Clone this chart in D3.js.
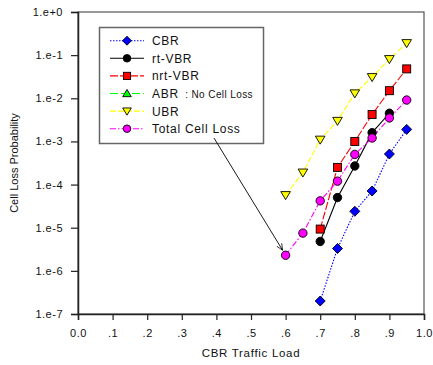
<!DOCTYPE html>
<html>
<head>
<meta charset="utf-8">
<script src="https://cdn.jsdelivr.net/npm/d3@7"></script>
<style>
  body { margin: 0; background: #fff; }
  svg { font-family: 'Liberation Sans', Arial, sans-serif; }
  .tick text { font-size: 11px; letter-spacing: 0.5px; fill: #111; }
</style>
</head>
<body>
<svg id="chart" width="433" height="365"></svg>
<script>
'use strict';

// load values (x axis)
const loads = [0.6, 0.65, 0.7, 0.75, 0.8, 0.85, 0.9, 0.95];

// cell loss probability per class (null = no point)
const cbr = [null, null, 2.0e-7, 3.3e-6, 2.4e-5, 7.1e-5, 5.1e-4, 1.9e-3];
const rtVbr = [null, null, 4.8e-6, 5.0e-5, 2.7e-4, 1.6e-3, 4.5e-3, null];
const nrtVbr = [null, null, 9.3e-6, 2.5e-4, 1.0e-3, 4.2e-3, 1.5e-2, 4.8e-2];
const ubr = [5.7e-5, 1.9e-4, 1.1e-3, 3.0e-3, 1.3e-2, 3.1e-2, 8.1e-2, 0.19];
const total = [2.3e-6, 7.5e-6, 4.2e-5, 1.2e-4, 5.0e-4, 1.2e-3, 3.5e-3, 9.1e-3];

const xTicks = [0, 0.1, 0.2, 0.3, 0.4, 0.5, 0.6, 0.7, 0.8, 0.9, 1.0];
const xTickLabels = ['0.0', '.1', '.2', '.3', '.4', '.5', '.6', '.7', '.8', '.9', '1.0'];
const yTicks = [1, 1e-1, 1e-2, 1e-3, 1e-4, 1e-5, 1e-6, 1e-7];
const yTickLabels = ['1.e+0', '1.e-1', '1.e-2', '1.e-3', '1.e-4', '1.e-5', '1.e-6', '1.e-7'];

const series = [
  { name: 'CBR', values: cbr, color: '#0000ff', dash: '1.5,1.5', marker: 'diamond', fill: '#0000ff' },
  { name: 'rt-VBR', values: rtVbr, color: '#000', dash: null, marker: 'circle', fill: '#000' },
  { name: 'nrt-VBR', values: nrtVbr, color: '#ff0000', dash: '8,2', marker: 'square', fill: '#ff0000' },
  { name: 'ABR', note: '  : No Cell Loss', values: [], color: '#00ff00', dash: '8,3', marker: 'triangle', fill: '#00ff00' },
  { name: 'UBR', values: ubr, color: '#ffff00', dash: '6,2', marker: 'triangleDown', fill: '#ffff00' },
  { name: 'Total Cell Loss', values: total, color: '#ff00ff', dash: '6,2,1.5,2', marker: 'circle', fill: '#ff00ff' }
];

const margin = { top: 12, right: 9, bottom: 51, left: 78 };
const width = 433, height = 365;

const svg = d3.select('#chart');

const x = d3.scaleLinear()
  .domain([0, 1])
  .range([margin.left, width - margin.right]);

const y = d3.scaleLog()
  .domain([1e-7, 1])
  .range([height - margin.bottom, margin.top]);

// frame
svg.append('rect')
  .attr('x', x(0))
  .attr('y', y(1))
  .attr('width', x(1) - x(0))
  .attr('height', y(1e-7) - y(1))
  .attr('fill', 'none')
  .attr('stroke', '#555')
  .attr('stroke-width', 1.2);

// axes
const xAxis = svg.append('g')
  .attr('transform', `translate(0,${y(1e-7)})`)
  .call(d3.axisBottom(x)
    .tickValues(xTicks)
    .tickSize(6)
    .tickPadding(9)
    .tickFormat((d, i) => xTickLabels[i]));

const yAxis = svg.append('g')
  .attr('transform', `translate(${x(0)},0)`)
  .call(d3.axisLeft(y)
    .tickValues(yTicks)
    .tickSize(7)
    .tickPadding(8)
    .tickFormat((d, i) => yTickLabels[i]));

[xAxis, yAxis].forEach(a => {
  a.select('.domain').attr('stroke', '#222').attr('stroke-width', 1.5);
  a.selectAll('.tick line').attr('stroke', '#222').attr('stroke-width', 1.2);
});

// titles
svg.append('text')
  .attr('x', (x(0) + x(1)) / 2)
  .attr('y', 357)
  .attr('text-anchor', 'middle')
  .attr('font-size', 11.5)
  .attr('letter-spacing', 0.7)
  .attr('fill', '#111')
  .text('CBR Traffic Load');

svg.append('text')
  .attr('transform', `translate(18,${(y(1) + y(1e-7)) / 2}) rotate(-90)`)
  .attr('text-anchor', 'middle')
  .attr('font-size', 11)
  .attr('fill', '#111')
  .text('Cell Loss Probability');

// markers
function drawMarker(g, type, cx, cy, fill, k) {
  let m;
  if (type === 'circle') {
    m = g.append('circle').attr('cx', cx).attr('cy', cy).attr('r', 4.2 * k);
  } else if (type === 'square') {
    const h = 4 * k;
    m = g.append('rect').attr('x', cx - h).attr('y', cy - h).attr('width', 2 * h).attr('height', 2 * h);
  } else if (type === 'diamond') {
    const h = 5 * k;
    m = g.append('path').attr('d', `M${cx},${cy - h}L${cx + h},${cy}L${cx},${cy + h}L${cx - h},${cy}Z`);
  } else if (type === 'triangle') {
    m = g.append('path').attr('d', `M${cx},${cy - 4.5 * k}L${cx + 4.8 * k},${cy + 3.5 * k}L${cx - 4.8 * k},${cy + 3.5 * k}Z`);
  } else {
    m = g.append('path').attr('d', `M${cx - 4.8 * k},${cy - 3.5 * k}L${cx + 4.8 * k},${cy - 3.5 * k}L${cx},${cy + 4.5 * k}Z`);
  }
  m.attr('fill', fill).attr('stroke', '#000').attr('stroke-width', 0.9);
}

const line = d3.line()
  .defined(d => d[1] != null)
  .x(d => x(d[0]))
  .y(d => y(d[1]));

series.forEach(s => {
  const pts = loads.map((l, i) => [l, s.values[i] == null ? null : s.values[i]]);
  svg.append('path')
    .datum(pts)
    .attr('fill', 'none')
    .attr('stroke', s.color)
    .attr('stroke-width', 1.1)
    .attr('stroke-dasharray', s.dash)
    .attr('d', line);
});

series.forEach(s => {
  const g = svg.append('g');
  loads.forEach((l, i) => {
    if (s.values[i] != null) drawMarker(g, s.marker, x(l), y(s.values[i]), s.fill, 1);
  });
});

// legend
const legend = svg.append('g');
legend.append('rect')
  .attr('x', 99.5)
  .attr('y', 27.5)
  .attr('width', 164)
  .attr('height', 116)
  .attr('fill', '#fff')
  .attr('stroke', '#666')
  .attr('stroke-width', 1.5);

series.forEach((s, i) => {
  const ly = 40.7 + i * 17.6;
  legend.append('line')
    .attr('x1', 110).attr('x2', 144)
    .attr('y1', ly).attr('y2', ly)
    .attr('stroke', s.color)
    .attr('stroke-width', 1.1)
    .attr('stroke-dasharray', s.dash);
  drawMarker(legend, s.marker, 127, ly, s.fill, 0.9);
  const t = legend.append('text')
    .attr('x', 152)
    .attr('y', ly + 4.5)
    .attr('font-size', 12)
    .attr('letter-spacing', 0.7)
    .attr('fill', '#111')
    .attr('xml:space', 'preserve')
    .style('white-space', 'pre')
    .text(s.name);
  if (s.note) {
    t.append('tspan')
      .attr('font-size', 10)
      .attr('letter-spacing', 0.4)
      .text(s.note);
  }
});

// arrow from legend to the first total-loss point
svg.append('defs').append('marker')
  .attr('id', 'arrow')
  .attr('viewBox', '0 0 10 10')
  .attr('refX', 9).attr('refY', 5)
  .attr('markerWidth', 8).attr('markerHeight', 8)
  .attr('orient', 'auto')
  .append('path')
  .attr('d', 'M0,1L9,5L0,9')
  .attr('fill', 'none')
  .attr('stroke', '#000')
  .attr('stroke-width', 1);

svg.append('line')
  .attr('x1', 214).attr('y1', 138)
  .attr('x2', x(0.6) - 3).attr('y2', y(total[0]) - 5)
  .attr('stroke', '#000')
  .attr('stroke-width', 0.9)
  .attr('marker-end', 'url(#arrow)');
</script>
</body>
</html>
